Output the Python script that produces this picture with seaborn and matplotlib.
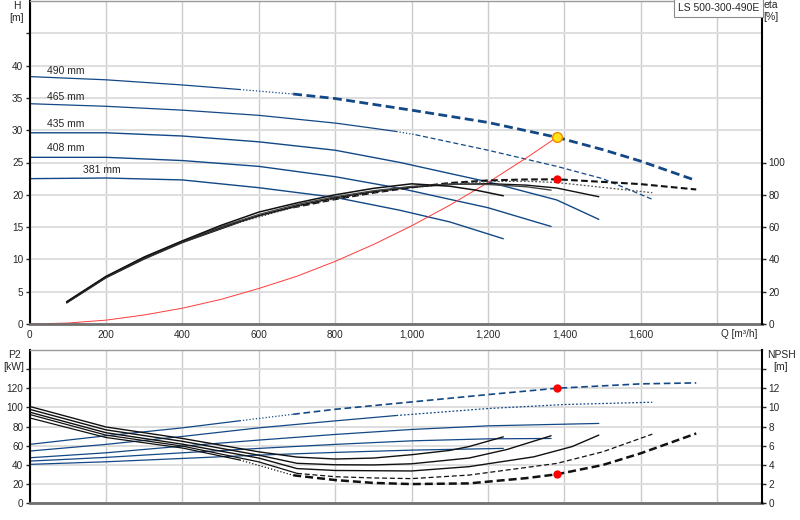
import numpy as np
import seaborn as sns
import matplotlib
matplotlib.use("Agg")
import matplotlib.pyplot as plt

# impeller diameters
diameters = ["490 mm", "465 mm", "435 mm", "408 mm", "381 mm"]

# head curves  Q [m3/h] -> H [m]
q_h490 = [0, 200, 400, 550, 690, 800, 1000, 1200, 1380, 1500, 1600, 1745]
h490 = [38.3, 37.8, 37.0, 36.3, 35.6, 34.9, 33.1, 31.2, 28.9, 27.0, 25.2, 22.2]
q_h465 = [0, 200, 400, 600, 800, 900, 960, 1010, 1200, 1380, 1500, 1630]
h465 = [34.1, 33.7, 33.1, 32.3, 31.1, 30.3, 29.8, 29.3, 26.9, 24.4, 22.5, 19.3]
q_h435 = [0, 200, 400, 600, 800, 970, 1100, 1200, 1380, 1490]
h435 = [29.6, 29.6, 29.1, 28.2, 26.9, 25.0, 23.3, 22.0, 19.2, 16.2]
q_h408 = [0, 200, 400, 600, 800, 970, 1100, 1200, 1365]
h408 = [25.8, 25.8, 25.3, 24.4, 22.8, 21.0, 19.3, 18.0, 15.1]
q_h381 = [0, 200, 400, 600, 800, 970, 1100, 1240]
h381 = [22.5, 22.6, 22.3, 21.1, 19.6, 17.6, 15.8, 13.2]

# efficiency curves  Q -> eta [%]
q_e490 = [97, 200, 300, 400, 550, 690, 800, 900, 1000, 1100, 1200, 1300, 1380, 1500, 1600, 1745]
e490 = [13.0, 28.6, 40.2, 50.4, 63.0, 72.2, 77.3, 81.3, 84.6, 87.3, 88.9, 89.5, 89.6, 88.0, 86.6, 83.3]
q_e465 = [97, 200, 300, 400, 500, 600, 700, 800, 900, 1000, 1100, 1200, 1300, 1380, 1500, 1630]
e465 = [13.2, 28.8, 40.5, 50.6, 59.4, 66.8, 72.8, 77.6, 81.6, 84.5, 86.7, 88.2, 88.4, 87.6, 84.6, 81.3]
q_e435 = [97, 200, 300, 400, 500, 600, 700, 800, 900, 1000, 1100, 1200, 1300, 1380, 1490]
e435 = [13.4, 29.0, 40.8, 50.9, 59.7, 67.2, 73.2, 78.2, 82.0, 84.7, 86.4, 86.9, 86.0, 84.2, 78.8]
q_e408 = [97, 200, 300, 400, 500, 600, 700, 800, 900, 1000, 1100, 1200, 1300, 1365]
e408 = [13.6, 29.2, 41.2, 51.2, 60.2, 67.8, 74.0, 78.8, 82.5, 85.2, 86.6, 86.4, 85.0, 82.9]
q_e381 = [97, 200, 300, 400, 500, 600, 700, 800, 900, 1000, 1100, 1170, 1240]
e381 = [13.8, 29.5, 41.5, 51.5, 61.0, 69.3, 75.0, 80.0, 84.0, 86.8, 85.3, 82.8, 79.4]

# system curve
q_sys = [0, 100, 200, 300, 400, 500, 600, 700, 800, 900, 1000, 1100, 1200, 1300, 1380]
h_sys = [0, 0.15, 0.6, 1.4, 2.45, 3.8, 5.5, 7.4, 9.7, 12.3, 15.2, 18.4, 21.9, 25.7, 28.9]

# duty point
q_duty = [1380]
h_duty = [28.9]
eta_duty = [89.5]
p2_duty = [120]
npsh_duty = [3.0]

# power curves  Q -> P2 [kW]
q_p490 = [0, 200, 400, 550, 690, 800, 1000, 1200, 1380, 1600, 1745]
p490 = [61.3, 70.3, 78.6, 86.0, 92.8, 98.0, 105.7, 113.4, 120.0, 124.6, 125.6]
q_p465 = [0, 200, 400, 600, 800, 960, 1010, 1200, 1400, 1630]
p465 = [54.3, 61.3, 69.6, 78.6, 85.9, 91.5, 93.0, 98.8, 103.0, 105.4]
q_p435 = [0, 200, 400, 600, 800, 1000, 1200, 1490]
p435 = [47.3, 52.5, 59.5, 65.8, 71.7, 76.9, 80.7, 83.2]
q_p408 = [0, 200, 400, 600, 800, 1000, 1200, 1365]
p408 = [43.8, 47.7, 52.5, 57.1, 61.3, 65.0, 67.1, 67.5]
q_p381 = [0, 200, 400, 600, 800, 1000, 1240]
p381 = [40.4, 43.1, 46.6, 50.1, 52.9, 55.3, 57.1]

# NPSH curves  Q -> NPSH [m]
q_n490 = [0, 200, 400, 550, 690, 800, 900, 1000, 1150, 1300, 1380, 1500, 1600, 1745]
n490 = [8.9, 6.85, 5.75, 4.5, 2.9, 2.4, 2.1, 1.98, 2.05, 2.6, 3.0, 3.97, 5.2, 7.27]
q_n465 = [0, 200, 400, 600, 700, 800, 900, 1000, 1150, 1380, 1500, 1630]
n465 = [9.26, 7.1, 5.95, 4.3, 3.1, 2.75, 2.62, 2.55, 2.92, 4.14, 5.35, 7.2]
q_n435 = [0, 200, 400, 600, 700, 800, 1000, 1150, 1320, 1420, 1490]
n435 = [9.5, 7.35, 6.15, 4.7, 3.6, 3.4, 3.35, 3.8, 4.83, 5.9, 7.1]
q_n408 = [0, 200, 400, 600, 700, 800, 900, 1000, 1150, 1250, 1365]
n408 = [9.8, 7.65, 6.45, 5.0, 4.15, 4.0, 3.98, 4.1, 4.7, 5.6, 7.03]
q_n381 = [0, 200, 400, 600, 700, 800, 900, 1000, 1100, 1150, 1240]
n381 = [10.1, 7.95, 6.75, 5.35, 4.8, 4.6, 4.7, 5.05, 5.5, 5.9, 6.92]

q_ticks = [0, 200, 400, 600, 800, 1000, 1200, 1400, 1600, 1800]

BLUE = "#134886"
BLACK = "#111111"

sns.set_style("white")
plt.rcParams["font.family"] = ["Liberation Sans", "DejaVu Sans"]
plt.rcParams["font.size"] = 7.2


def draw(ax, q, v, color, parts):
    # parts: (q_from, q_to, linestyle, linewidth) - limits are data points
    q = np.asarray(q, dtype=float)
    v = np.asarray(v, dtype=float)
    for lo, hi, ls, lw in parts:
        m = (q >= lo) & (q <= hi)
        sns.lineplot(x=q[m], y=v[m], ax=ax, color=color, linestyle=ls,
                     linewidth=lw, estimator=None, sort=False, legend=False)


END = 5000
dot = (0, (1, 1.6))
dash_thin = (0, (4, 2.2))
dash_thick = (0, (3.2, 1.6))


def solid(lw=1.0):
    return [(0, END, "-", lw)]


def sel490(lw_dash=2.0, ls=dash_thick):
    return [(0, 550, "-", 0.9), (550, 690, dot, 0.9), (690, END, ls, lw_dash)]


fig = plt.figure(figsize=(8, 5.2), dpi=100)
ax1 = fig.add_axes([0.037, 0.3769, 0.9159, 0.6212])
ax1r = ax1.twinx()
ax2 = fig.add_axes([0.037, 0.0327, 0.9159, 0.2942])
ax2r = ax2.twinx()

# ---- top panel: head, efficiency ----
draw(ax1, q_h490, h490, BLUE, sel490(2.0))
draw(ax1, q_h465, h465, BLUE, [(0, 960, "-", 0.9), (960, 1010, dot, 0.9), (1010, END, dash_thin, 0.9)])
draw(ax1, q_h435, h435, BLUE, solid())
draw(ax1, q_h408, h408, BLUE, solid())
draw(ax1, q_h381, h381, BLUE, solid())
draw(ax1, q_sys, h_sys, "#ff3b3b", [(0, END, "-", 0.7)])
sns.scatterplot(x=q_duty, y=h_duty, ax=ax1, s=50, color="#ffe21a",
                edgecolor="#f08a00", linewidth=1.0, zorder=5, legend=False)

draw(ax1r, q_e490, e490, BLACK, sel490(1.5))
draw(ax1r, q_e465, e465, "#555555", [(0, 700, "-", 0.9), (700, END, (0, (1.5, 1.5)), 0.9)])
draw(ax1r, q_e435, e435, BLACK, solid(1.0))
draw(ax1r, q_e408, e408, "#444444", solid(1.0))
draw(ax1r, q_e381, e381, BLACK, solid(1.1))
sns.scatterplot(x=q_duty, y=eta_duty, ax=ax1r, s=36, color="red",
                linewidth=0, zorder=5, legend=False)

label_pos = [(45, 39.2), (45, 35.2), (45, 30.9), (45, 27.2), (140, 23.9)]
for name, (lx, ly) in zip(diameters, label_pos):
    ax1.text(lx, ly, name, fontsize=7.5, ha="left", va="center")

# ---- bottom panel: power, NPSH ----
draw(ax2, q_p490, p490, BLUE, sel490(1.2, dash_thin))
draw(ax2, q_p465, p465, BLUE, [(0, 960, "-", 0.9), (960, END, (0, (1.5, 1.5)), 0.9)])
draw(ax2, q_p435, p435, BLUE, solid(0.9))
draw(ax2, q_p408, p408, BLUE, solid(0.9))
draw(ax2, q_p381, p381, BLUE, solid(0.9))
sns.scatterplot(x=q_duty, y=p2_duty, ax=ax2, s=36, color="red",
                linewidth=0, zorder=5, legend=False)

draw(ax2r, q_n490, n490, BLACK, sel490(1.8))
draw(ax2r, q_n465, n465, BLACK, [(0, 700, "-", 0.9), (700, END, dash_thin, 0.9)])
draw(ax2r, q_n435, n435, BLACK, solid(1.0))
draw(ax2r, q_n408, n408, BLACK, solid(1.0))
draw(ax2r, q_n381, n381, BLACK, solid(1.0))
sns.scatterplot(x=q_duty, y=npsh_duty, ax=ax2r, s=36, color="red",
                linewidth=0, zorder=5, legend=False)

# ---- axes styling ----
for a, ar, ymax, rmax, yt, rt in [
    (ax1, ax1r, 50, 200, np.arange(0, 46, 5), np.arange(0, 101, 20)),
    (ax2, ax2r, 160, 16, np.arange(0, 141, 20), np.arange(0, 15, 2)),
]:
    a.set_xlim(0, 1918)
    a.set_ylim(0, ymax)
    ar.set_ylim(0, rmax)
    a.set_xticks(q_ticks)
    a.set_yticks(yt)
    a.set_yticklabels([f"{v:g}" for v in yt[:-1]] + [""])
    ar.set_yticks(rt)
    ar.set_yticklabels([f"{v:g}" for v in rt[:-1]] + ([""] if a is ax2 else [f"{rt[-1]:g}"]))
    a.xaxis.grid(True, color="#cbcbcb", linewidth=1.0)
    a.yaxis.grid(True, color="#dedede", linewidth=1.4)
    a.set_axisbelow(True)
    a.set_xlabel("")
    a.set_ylabel("")
    ar.set_ylabel("")
    a.tick_params(axis="y", direction="out", length=3, width=1, pad=1.5, labelsize=7.2)
    ar.tick_params(axis="y", direction="out", length=3, width=1, pad=1.5, labelsize=7.2)
    a.tick_params(axis="x", length=0, pad=4, labelsize=7.2)
    a.spines["left"].set_color("black")
    a.spines["left"].set_linewidth(1.5)
    a.spines["bottom"].set_color("#707070")
    a.spines["bottom"].set_linewidth(2)
    a.spines["top"].set_color("#9a9a9a")
    a.spines["top"].set_linewidth(1)
    a.spines["right"].set_visible(False)
    for s in ["left", "top", "bottom"]:
        ar.spines[s].set_visible(False)
    ar.spines["right"].set_color("black")
    ar.spines["right"].set_linewidth(1.5)

ax1.set_xticklabels([f"{v:,}" for v in q_ticks[:-1]] + [""])
ax2.set_xticklabels([])

# axis titles
fig.text(17 / 800, 1 - 12 / 520, "H\n[m]", ha="center", va="center", fontsize=7.5, linespacing=1.25)
fig.text(771 / 800, 1 - 11.5 / 520, "eta\n[%]", ha="center", va="center", fontsize=7.5, linespacing=1.25)
fig.text(14 / 800, 1 - 361 / 520, "P2\n[kW]", ha="center", va="center", fontsize=7.5, linespacing=1.25)
fig.text(781 / 800, 1 - 361 / 520, "NPSH\n[m]", ha="center", va="center", fontsize=7.5, linespacing=1.25)
fig.text(739.5 / 800, 1 - 334 / 520, "Q [m\u00b3/h]", ha="center", va="center", fontsize=7.2)

fig.text(759 / 800, 1 - 8 / 520, "LS 500-300-490E", ha="right", va="center", fontsize=7.5,
         bbox=dict(boxstyle="square,pad=0.4", fc="white", ec="#8a8a8a", lw=0.8))

fig.savefig("out.png", dpi=100)
